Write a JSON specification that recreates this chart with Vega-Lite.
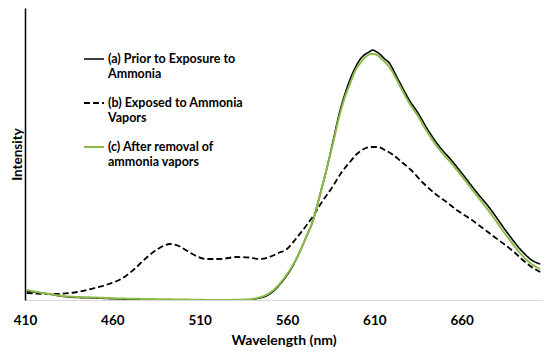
{
  "$schema": "https://vega.github.io/schema/vega-lite/v6.json",
  "width": 517,
  "height": 292,
  "autosize": "none",
  "padding": {"left": 25, "top": 8, "right": 8, "bottom": 53},
  "background": "white",
  "config": {
    "view": {"stroke": null},
    "font": "Lato"
  },
  "datasets": {
    "spectra": [
      {"s": "a", "w": 411, "v": 9}, {"s": "a", "w": 420, "v": 7}, {"s": "a", "w": 435, "v": 3}, {"s": "a", "w": 450, "v": 2}, {"s": "a", "w": 465, "v": 1}, {"s": "a", "w": 480, "v": 0.5}, {"s": "a", "w": 500, "v": 0}, {"s": "a", "w": 520, "v": 0}, {"s": "a", "w": 537, "v": 0}, {"s": "a", "w": 543, "v": 1.5}, {"s": "a", "w": 548, "v": 4}, {"s": "a", "w": 553, "v": 10}, {"s": "a", "w": 558, "v": 20}, {"s": "a", "w": 563, "v": 33}, {"s": "a", "w": 567, "v": 47}, {"s": "a", "w": 571, "v": 63}, {"s": "a", "w": 575, "v": 80}, {"s": "a", "w": 579, "v": 106}, {"s": "a", "w": 583, "v": 133}, {"s": "a", "w": 586.5, "v": 160}, {"s": "a", "w": 590, "v": 187}, {"s": "a", "w": 593, "v": 205}, {"s": "a", "w": 596, "v": 220}, {"s": "a", "w": 599, "v": 232}, {"s": "a", "w": 602, "v": 241}, {"s": "a", "w": 605, "v": 246}, {"s": "a", "w": 607, "v": 248}, {"s": "a", "w": 609, "v": 250}, {"s": "a", "w": 611, "v": 248.5}, {"s": "a", "w": 613, "v": 246}, {"s": "a", "w": 616, "v": 241}, {"s": "a", "w": 619, "v": 236}, {"s": "a", "w": 622, "v": 226}, {"s": "a", "w": 625, "v": 216}, {"s": "a", "w": 630, "v": 200}, {"s": "a", "w": 635, "v": 187}, {"s": "a", "w": 640, "v": 172}, {"s": "a", "w": 647, "v": 154}, {"s": "a", "w": 654, "v": 140}, {"s": "a", "w": 660, "v": 127}, {"s": "a", "w": 668, "v": 109}, {"s": "a", "w": 676, "v": 92}, {"s": "a", "w": 685, "v": 70}, {"s": "a", "w": 695, "v": 48}, {"s": "a", "w": 700, "v": 40}, {"s": "a", "w": 705, "v": 36},

      {"s": "b", "w": 411, "v": 7}, {"s": "b", "w": 426, "v": 6}, {"s": "b", "w": 440, "v": 8}, {"s": "b", "w": 450, "v": 12}, {"s": "b", "w": 458, "v": 16}, {"s": "b", "w": 465, "v": 21}, {"s": "b", "w": 472, "v": 30}, {"s": "b", "w": 480, "v": 43}, {"s": "b", "w": 487, "v": 52}, {"s": "b", "w": 493, "v": 56}, {"s": "b", "w": 498, "v": 54}, {"s": "b", "w": 503, "v": 49}, {"s": "b", "w": 508, "v": 44}, {"s": "b", "w": 514, "v": 41}, {"s": "b", "w": 522, "v": 41}, {"s": "b", "w": 531, "v": 43}, {"s": "b", "w": 538, "v": 42.5}, {"s": "b", "w": 544, "v": 41}, {"s": "b", "w": 550, "v": 43}, {"s": "b", "w": 555, "v": 47}, {"s": "b", "w": 560, "v": 51}, {"s": "b", "w": 565, "v": 61}, {"s": "b", "w": 570, "v": 72}, {"s": "b", "w": 575, "v": 84}, {"s": "b", "w": 580, "v": 98}, {"s": "b", "w": 586, "v": 113}, {"s": "b", "w": 591, "v": 127}, {"s": "b", "w": 596, "v": 138}, {"s": "b", "w": 600, "v": 146}, {"s": "b", "w": 604, "v": 151}, {"s": "b", "w": 608, "v": 153}, {"s": "b", "w": 612, "v": 153}, {"s": "b", "w": 616, "v": 150}, {"s": "b", "w": 620, "v": 146}, {"s": "b", "w": 625, "v": 139}, {"s": "b", "w": 631, "v": 130}, {"s": "b", "w": 638, "v": 117}, {"s": "b", "w": 645, "v": 106}, {"s": "b", "w": 652, "v": 97}, {"s": "b", "w": 658, "v": 89}, {"s": "b", "w": 665, "v": 81}, {"s": "b", "w": 672, "v": 72}, {"s": "b", "w": 678, "v": 64}, {"s": "b", "w": 685, "v": 55}, {"s": "b", "w": 690, "v": 48}, {"s": "b", "w": 695, "v": 40}, {"s": "b", "w": 700, "v": 33}, {"s": "b", "w": 705, "v": 28},

      {"s": "c", "w": 411, "v": 10}, {"s": "c", "w": 420, "v": 7}, {"s": "c", "w": 435, "v": 3.5}, {"s": "c", "w": 450, "v": 2.5}, {"s": "c", "w": 465, "v": 1.5}, {"s": "c", "w": 480, "v": 1}, {"s": "c", "w": 500, "v": 0.5}, {"s": "c", "w": 520, "v": 0}, {"s": "c", "w": 537, "v": 0.5}, {"s": "c", "w": 543, "v": 2}, {"s": "c", "w": 548, "v": 5}, {"s": "c", "w": 553, "v": 11}, {"s": "c", "w": 558, "v": 21}, {"s": "c", "w": 563, "v": 34}, {"s": "c", "w": 567, "v": 47}, {"s": "c", "w": 571, "v": 63}, {"s": "c", "w": 575, "v": 80}, {"s": "c", "w": 579, "v": 106}, {"s": "c", "w": 583, "v": 133}, {"s": "c", "w": 586.5, "v": 158}, {"s": "c", "w": 590, "v": 184}, {"s": "c", "w": 593, "v": 202}, {"s": "c", "w": 596, "v": 216}, {"s": "c", "w": 599, "v": 229}, {"s": "c", "w": 602, "v": 237}, {"s": "c", "w": 605, "v": 243}, {"s": "c", "w": 608, "v": 246}, {"s": "c", "w": 610, "v": 246}, {"s": "c", "w": 613, "v": 243}, {"s": "c", "w": 616, "v": 238}, {"s": "c", "w": 619, "v": 232}, {"s": "c", "w": 622, "v": 223}, {"s": "c", "w": 625, "v": 213}, {"s": "c", "w": 630, "v": 197}, {"s": "c", "w": 635, "v": 184}, {"s": "c", "w": 640, "v": 169}, {"s": "c", "w": 647, "v": 151}, {"s": "c", "w": 654, "v": 137}, {"s": "c", "w": 660, "v": 124}, {"s": "c", "w": 668, "v": 106}, {"s": "c", "w": 676, "v": 88}, {"s": "c", "w": 685, "v": 66}, {"s": "c", "w": 695, "v": 44}, {"s": "c", "w": 700, "v": 36}, {"s": "c", "w": 705, "v": 31}
    ]
  },
  "data": {"name": "spectra"},
  "mark": {"type": "line", "interpolate": "monotone", "clip": true},
  "encoding": {
    "x": {
      "field": "w",
      "type": "quantitative",
      "scale": {"domain": [410, 706], "nice": false, "zero": false},
      "axis": {
        "values": [410, 460, 510, 560, 610, 660],
        "title": "Wavelength (nm)",
        "titleFont": "Lato",
        "titleFontSize": 14,
        "titleFontWeight": "bold",
        "titleColor": "#000000",
        "titlePadding": 7,
        "labelFont": "Lato",
        "labelFontSize": 13.5,
        "labelFontWeight": "bold",
        "labelColor": "#000000",
        "labelPadding": 13,
        "labelFlush": false,
        "ticks": false,
        "grid": false,
        "domainColor": "#d9d9d9",
        "domainWidth": 1
      }
    },
    "y": {
      "field": "v",
      "type": "quantitative",
      "scale": {"domain": [0, 292], "nice": false},
      "axis": {
        "title": "Intensity",
        "titleFont": "Lato",
        "titleFontSize": 13.5,
        "titleFontWeight": "bold",
        "titleColor": "#000000",
        "titlePadding": 1,
        "labels": false,
        "ticks": false,
        "grid": false,
        "domainColor": "#000000",
        "domainWidth": 1.5
      }
    },
    "color": {
      "field": "s",
      "type": "nominal",
      "scale": {"domain": ["a", "b", "c"], "range": ["#000000", "#000000", "#8cbb48"]},
      "legend": {
        "title": null,
        "orient": "none",
        "legendX": 58,
        "legendY": 40,
        "symbolType": "stroke",
        "symbolSize": 400,
        "symbolStrokeWidth": 1.6,
        "labelFont": "Lato",
        "labelFontSize": 12.5,
        "labelFontWeight": "bold",
        "labelColor": "#000000",
        "labelOffset": 3,
        "labelLimit": 300,
        "rowPadding": 12,
        "labelExpr": "datum.label == 'a' ? ['(a) Prior to Exposure to', 'Ammonia'] : datum.label == 'b' ? ['(b) Exposed to Ammonia', 'Vapors'] : ['(c) After removal of', 'ammonia vapors']"
      }
    },
    "strokeDash": {
      "field": "s",
      "type": "nominal",
      "scale": {"domain": ["a", "b", "c"], "range": [[1, 0], [6, 3], [1, 0]]},
      "legend": null
    },
    "strokeWidth": {
      "field": "s",
      "type": "nominal",
      "scale": {"domain": ["a", "b", "c"], "range": [1.6, 2, 1.6]},
      "legend": null
    }
  }
}
